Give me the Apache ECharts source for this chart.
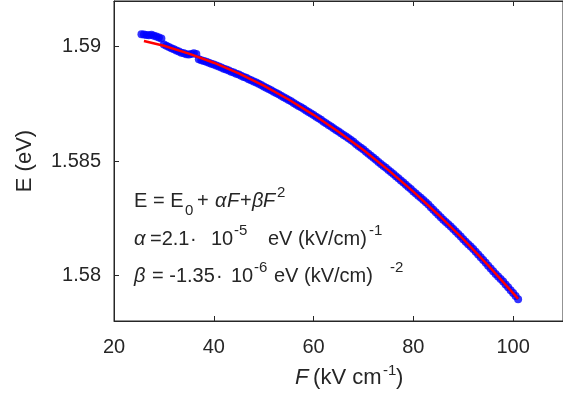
<!DOCTYPE html>
<html><head><meta charset="utf-8">
<script src="https://cdn.jsdelivr.net/npm/echarts@6/dist/echarts.min.js"></script>
<style>html,body{margin:0;padding:0;background:#fff;overflow:hidden}#c{width:563px;height:403px}</style>
</head><body><div id="c"></div>
<script>
// Measured data (blue dots): field F (kV/cm) and energy E (eV)
const fieldMeasured = [25.5,26,26.5,27,27.5,28,28.5,29,29.5,30,30.5,31,31.5,32,32.5,33,33.5,34,34.5,35,35.5,36,36.5,37,37.5,38,38.5,39,39.5,40,40.5,41,41.5,42,42.5,43,43.5,44,44.5,45,45.5,46,46.5,47,47.5,48,48.5,49,49.5,50,50.5,51,51.5,52,52.5,53,53.5,54,54.5,55,55.5,56,56.5,57,57.5,58,58.5,59,59.5,60,60.5,61,61.5,62,62.5,63,63.5,64,64.5,65,65.5,66,66.5,67,67.5,68,68.5,69,69.5,70,70.5,71,71.5,72,72.5,73,73.5,74,74.5,75,75.5,76,76.5,77,77.5,78,78.5,79,79.5,80,80.5,81,81.5,82,82.5,83,83.5,84,84.5,85,85.5,86,86.5,87,87.5,88,88.5,89,89.5,90,90.5,91,91.5,92,92.5,93,93.5,94,94.5,95,95.5,96,96.5,97,97.5,98,98.5,99,99.5,100,100.5,101];
const energyMeasured = [1.59054,1.59053,1.59051,1.59050,1.59052,1.59048,1.59045,1.59040,1.59036,1.59010,1.59004,1.58999,1.58993,1.58989,1.58983,1.58979,1.58974,1.58971,1.58967,1.58966,1.58968,1.58971,1.58968,1.58945,1.58941,1.58937,1.58934,1.58930,1.58925,1.58922,1.58918,1.58913,1.58909,1.58904,1.58900,1.58896,1.58891,1.58887,1.58882,1.58878,1.58873,1.58868,1.58864,1.58858,1.58853,1.58848,1.58843,1.58838,1.58832,1.58826,1.58821,1.58815,1.58809,1.58803,1.58798,1.58792,1.58785,1.58779,1.58773,1.58767,1.58761,1.58754,1.58747,1.58741,1.58735,1.58729,1.58721,1.58714,1.58708,1.58701,1.58694,1.58687,1.58680,1.58672,1.58665,1.58658,1.58651,1.58643,1.58636,1.58629,1.58621,1.58614,1.58607,1.58599,1.58592,1.58584,1.58574,1.58566,1.58558,1.58550,1.58541,1.58532,1.58523,1.58514,1.58505,1.58496,1.58487,1.58478,1.58470,1.58461,1.58452,1.58443,1.58433,1.58424,1.58415,1.58406,1.58396,1.58386,1.58377,1.58367,1.58358,1.58348,1.58339,1.58329,1.58320,1.58310,1.58298,1.58287,1.58276,1.58265,1.58254,1.58243,1.58233,1.58223,1.58213,1.58202,1.58192,1.58181,1.58170,1.58158,1.58147,1.58136,1.58126,1.58115,1.58103,1.58091,1.58079,1.58067,1.58055,1.58042,1.58030,1.58018,1.58006,1.57995,1.57984,1.57973,1.57960,1.57948,1.57935,1.57922,1.57909,1.57895];
// Fit curve (red line)
const fieldFit = [26,30,35,40,45,50,55,60,65,70,75,80,85,90,95,100,101];
const energyFit = [1.59025,1.59004,1.58970,1.58930,1.58883,1.58830,1.58769,1.58702,1.58628,1.58548,1.58460,1.58366,1.58265,1.58158,1.58043,1.57922,1.57897];
// Ticks
const yTickValues = [1.58, 1.585, 1.59];
const yTickLabels = ['1.58', '1.585', '1.59'];

const ink = '#262626';
const FONT = '"Liberation Sans", Arial, sans-serif';
function T(x, y, text, size, italic, extra) {
  return Object.assign({
    type: 'text', x: x, y: y, z: 100, silent: true,
    style: {
      text: text, fill: ink,
      font: (italic ? 'italic ' : '') + size + 'px ' + FONT,
      textAlign: 'left', textVerticalAlign: 'middle', align: 'left', verticalAlign: 'middle'
    }
  }, extra || {});
}

const graphics = [
  // line 1: E = E0 + αF+βF^2
  T(134, 201, 'E = E', 20),
  T(185, 211, '0', 15),
  T(197, 201, '+', 20),
  T(215, 201, 'α', 20, true),
  T(227, 201, 'F', 20, true),
  T(240, 201, '+', 20),
  T(252, 201, 'β', 20, true),
  T(263, 201, 'F', 20, true),
  T(277, 193, '2', 15),
  // line 2
  T(134, 239, 'α', 20, true),
  T(150, 239, '=2.1', 20),
  T(190, 239, '·', 20),
  T(211, 239, '10', 20),
  T(234, 231, '-5', 15),
  T(268, 239, 'eV (kV/cm)', 20),
  T(369, 231, '-1', 15),
  // line 3
  T(134, 276, 'β', 20, true),
  T(152, 276, '= -1.35', 20),
  T(216, 276, '·', 20),
  T(231, 276, '10', 20),
  T(254, 268, '-6', 15),
  T(274, 276, 'eV (kV/cm)', 20),
  T(390, 268, '-2', 15),
  // x axis title
  T(295, 378, 'F', 22, true),
  T(307, 378, ' (kV cm', 22),
  T(383, 371, '-1', 15),
  T(396, 378, ')', 22),
  // y axis title
  {
    type: 'text', x: 25, y: 161, rotation: Math.PI / 2, z: 100, silent: true,
    style: { text: 'E (eV)', fill: ink, font: '22px ' + FONT,
      textAlign: 'center', textVerticalAlign: 'middle', align: 'center', verticalAlign: 'middle' }
  }
];

const chart = echarts.init(document.getElementById('c'), null, { renderer: 'canvas' });
const axisLineStyle = { show: true, onZero: false, lineStyle: { color: ink, width: 1 } };
chart.setOption({
  animation: false,
  backgroundColor: '#fff',
  grid: { left: 114, top: 1, width: 456, height: 320, containLabel: false,
    show: true, borderColor: ink, borderWidth: 1, backgroundColor: 'transparent' },
  xAxis: [{
    type: 'value', min: 20, max: 110, interval: 20, position: 'bottom',
    axisLine: axisLineStyle,
    axisTick: { show: true, inside: true, length: 5, lineStyle: { color: ink } },
    axisLabel: { color: ink, fontSize: 20, fontFamily: FONT, margin: 16,
      showMaxLabel: false },
    splitLine: { show: false }
  }, {
    type: 'value', min: 20, max: 110, interval: 20, position: 'top', show: true,
    axisLine: axisLineStyle,
    axisTick: { show: true, inside: true, length: 5, lineStyle: { color: ink } },
    axisLabel: { show: false },
    splitLine: { show: false }
  }],
  yAxis: [{
    type: 'value', min: 1.578, max: 1.592,
    axisLine: axisLineStyle,
    axisTick: { show: true, inside: true, length: 5, lineStyle: { color: ink }, customValues: yTickValues },
    axisLabel: { color: ink, fontSize: 20, fontFamily: FONT, margin: 13,
      customValues: yTickValues,
      formatter: function (v) {
        const i = yTickValues.findIndex(t => Math.abs(t - v) < 1e-9);
        return i >= 0 ? yTickLabels[i] : '';
      } },
    splitLine: { show: false }
  }],
  series: [{
    type: 'scatter', xAxisIndex: 0,
    data: fieldMeasured.map((f, i) => [f, energyMeasured[i]]),
    symbol: 'circle', symbolSize: 8,
    itemStyle: { color: '#0000ff' },
    z: 2
  }, {
    type: 'line', xAxisIndex: 0,
    data: fieldFit.map((f, i) => [f, energyFit[i]]),
    showSymbol: false, symbol: 'none',
    lineStyle: { color: '#ff0000', width: 2.5 },
    z: 3
  }],
  graphic: graphics
});
</script>
</body></html>
